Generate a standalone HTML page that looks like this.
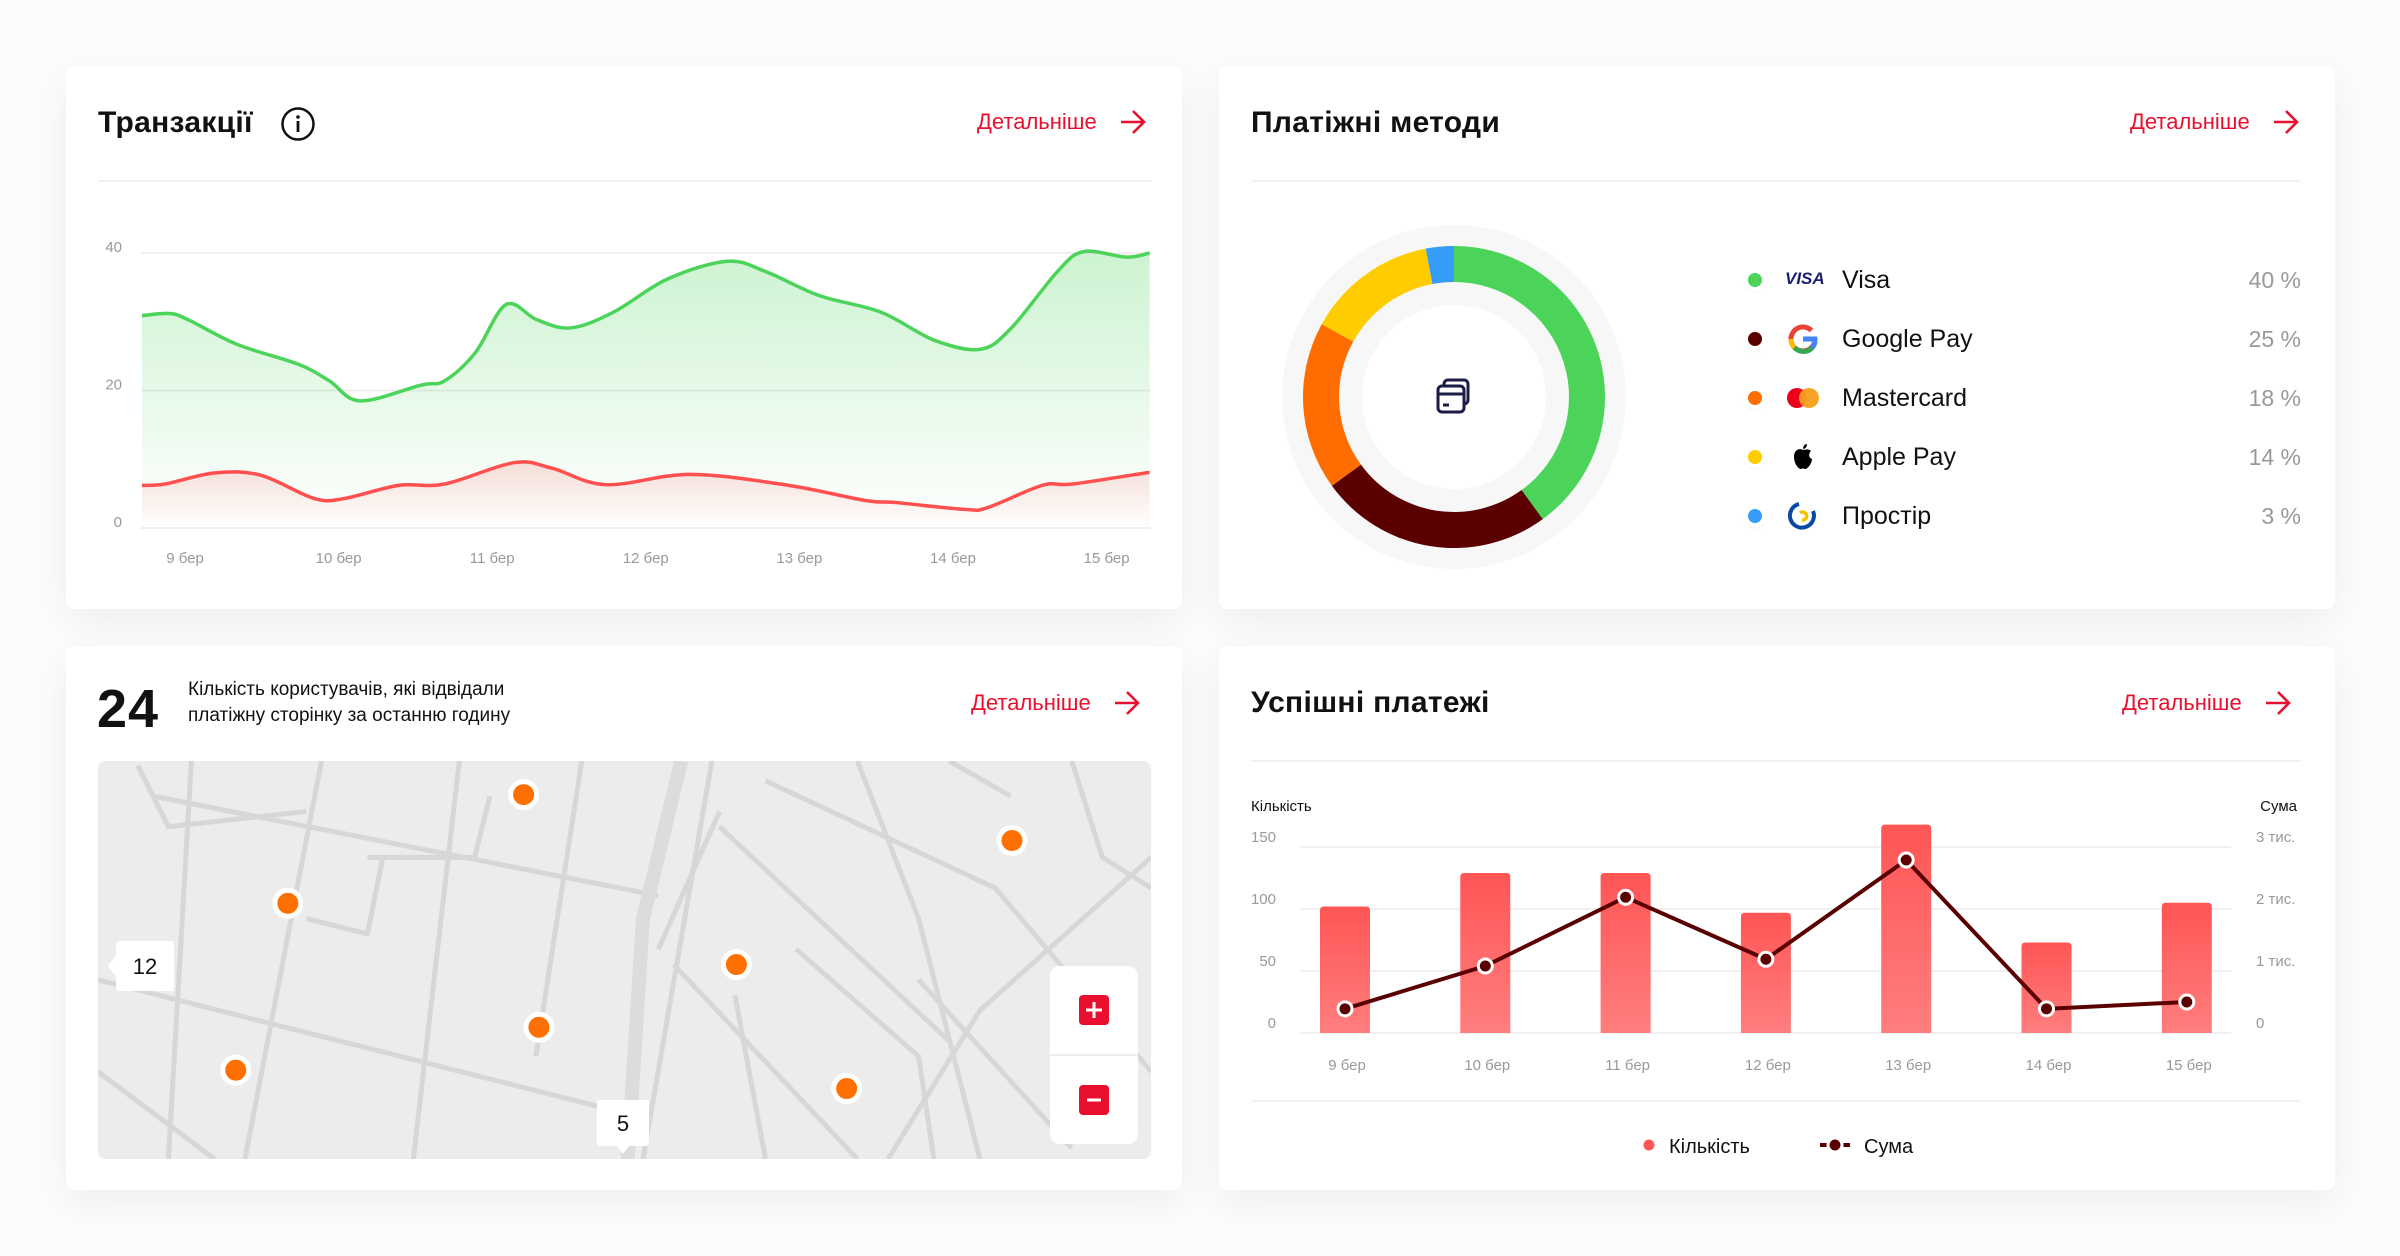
<!DOCTYPE html>
<html><head><meta charset="utf-8">
<style>
*{box-sizing:border-box;margin:0;padding:0}
body{width:2400px;height:1256px;background:#fcfcfc;position:relative;overflow:hidden;font-family:"Liberation Sans","Noto Sans CJK SC",sans-serif;color:#111}
.card{position:absolute;background:#fff;border-radius:8px;box-shadow:0 12px 40px rgba(0,0,0,0.06)}
.title{position:absolute;font-size:30px;font-weight:bold;letter-spacing:0.3px;color:#111}
.more{position:absolute;font-size:22px;color:#e8102e;display:flex;align-items:center;gap:22px}
.div{position:absolute;height:2px;background:#f2f2f2}
.abs{position:absolute}
.leg-row{position:absolute;left:1740px;width:561px;height:40px;display:flex;align-items:center}
.leg-dot{position:absolute;left:8px;width:14px;height:14px;border-radius:50%;box-shadow:0 0 0 4px #fff,0 3px 6px rgba(0,0,0,.12)}
.leg-name{position:absolute;left:102px;font-size:25px;color:#111}
.leg-pct{position:absolute;right:0;font-size:23px;color:#999}
.leg-icon{position:absolute;left:46px;width:34px;height:34px}
</style></head><body>

<div class="card" style="left:66px;top:66px;width:1116px;height:543px"></div>
<div class="card" style="left:1219px;top:66px;width:1116px;height:543px"></div>
<div class="card" style="left:66px;top:646px;width:1116px;height:544px"></div>
<div class="card" style="left:1219px;top:646px;width:1116px;height:544px"></div>

<div class="title" style="left:98px;top:106px">Транзакції</div>
<svg class="abs" style="left:280px;top:106px" width="36" height="36" viewBox="0 0 36 36"><circle cx="18" cy="18" r="15.5" fill="none" stroke="#111" stroke-width="2.5"/><circle cx="18" cy="11" r="1.8" fill="#111"/><rect x="16.6" y="15" width="2.8" height="11" fill="#111"/></svg>
<div class="more" style="left:977px;top:109px">Детальніше<svg width="28" height="26" viewBox="0 0 28 26"><path d="M2 13H25M14 2L25 13L14 24" fill="none" stroke="#e8102e" stroke-width="2.6"/></svg></div>
<div class="div" style="left:98px;top:180px;width:1053px"></div>

<div class="title" style="left:1251px;top:106px">Платіжні методи</div>
<div class="more" style="left:2130px;top:109px">Детальніше<svg width="28" height="26" viewBox="0 0 28 26"><path d="M2 13H25M14 2L25 13L14 24" fill="none" stroke="#e8102e" stroke-width="2.6"/></svg></div>
<div class="div" style="left:1251px;top:180px;width:1050px"></div>

<div class="leg-row" style="top:260px"><span class="leg-dot" style="background:#4cd45a"></span><span class="leg-icon" style="font:italic bold 17px 'Liberation Sans',sans-serif;color:#1a1f71;top:9px;left:45px">VISA</span><span class="leg-name">Visa</span><span class="leg-pct">40 %</span></div>
<div class="leg-row" style="top:319px"><span class="leg-dot" style="background:#5a0000"></span><svg class="leg-icon" viewBox="0 0 34 34"><path d="M29 17a12 12 0 1 1-3.5-8.5" fill="none" stroke="#ea4335" stroke-width="5"/><path d="M5 17a12 12 0 0 0 3.5 8.5" fill="none" stroke="#fbbc05" stroke-width="5"/><path d="M8.5 25.5A12 12 0 0 0 26 26" fill="none" stroke="#34a853" stroke-width="5"/><path d="M17 17H29a12 12 0 0 1-3 9" fill="none" stroke="#4285f4" stroke-width="5"/></svg><span class="leg-name">Google Pay</span><span class="leg-pct">25 %</span></div>
<div class="leg-row" style="top:378px"><span class="leg-dot" style="background:#ff6d00"></span><svg class="leg-icon" viewBox="0 0 34 34"><circle cx="11" cy="17" r="10" fill="#eb001b"/><circle cx="23" cy="17" r="10" fill="#f79e1b" opacity=".95"/></svg><span class="leg-name">Mastercard</span><span class="leg-pct">18 %</span></div>
<div class="leg-row" style="top:437px"><span class="leg-dot" style="background:#ffcc00"></span><svg class="leg-icon" viewBox="0 0 34 34"><path d="M17 10c-3-2-9-1-9 7 0 6 4 12 7 12 1.5 0 2-1 2-1s.5 1 2 1c3 0 7-6 7-10-3-1-4-5-1-8-3-3-6-1-8-1z" fill="#000"/><path d="M17 9c0-3 2-5 4-5 0 3-2 5-4 5z" fill="#000"/></svg><span class="leg-name">Apple Pay</span><span class="leg-pct">14 %</span></div>
<div class="leg-row" style="top:496px"><span class="leg-dot" style="background:#359df8"></span><svg class="leg-icon" viewBox="0 0 34 34"><path d="M13 5A12 12 0 1 0 27 12" fill="none" stroke="#0b4aa2" stroke-width="4"/><path d="M14 14a4 4 0 1 1 2 7" fill="none" stroke="#f5c400" stroke-width="3.5"/></svg><span class="leg-name">Простір</span><span class="leg-pct">3 %</span></div>

<div class="abs" style="left:97px;top:678px;font-size:54px;font-weight:bold;letter-spacing:1px">24</div>
<div class="abs" style="left:188px;top:677px;font-size:19px;line-height:26px;color:#111">Кількість користувачів, які відвідали<br>платіжну сторінку за останню годину</div>
<div class="more" style="left:971px;top:690px">Детальніше<svg width="28" height="26" viewBox="0 0 28 26"><path d="M2 13H25M14 2L25 13L14 24" fill="none" stroke="#e8102e" stroke-width="2.6"/></svg></div>

<div class="title" style="left:1251px;top:686px">Успішні платежі</div>
<div class="more" style="left:2122px;top:690px">Детальніше<svg width="28" height="26" viewBox="0 0 28 26"><path d="M2 13H25M14 2L25 13L14 24" fill="none" stroke="#e8102e" stroke-width="2.6"/></svg></div>
<div class="div" style="left:1251px;top:760px;width:1050px"></div>
<div class="div" style="left:1251px;top:1100px;width:1050px"></div>

<svg id="g" class="abs" style="left:0;top:0" width="2400" height="1256" viewBox="0 0 2400 1256">
<defs>
<linearGradient id="gf" x1="0" y1="0" x2="0" y2="1"><stop offset="0" stop-color="#4cd45a" stop-opacity=".28"/><stop offset="1" stop-color="#4cd45a" stop-opacity="0"/></linearGradient>
<linearGradient id="rf" x1="0" y1="0" x2="0" y2="1"><stop offset="0" stop-color="#ff4f4f" stop-opacity=".18"/><stop offset="1" stop-color="#ff4f4f" stop-opacity="0"/></linearGradient>
<linearGradient id="bf" x1="0" y1="0" x2="0" y2="1"><stop offset="0" stop-color="#ff5555"/><stop offset="1" stop-color="#ff7e7e"/></linearGradient>
<clipPath id="mapclip"><rect x="98" y="761" width="1053" height="398" rx="8"/></clipPath>
</defs>
<g id="lineChart"></g>
<g id="donut"></g>
<g id="map" clip-path="url(#mapclip)"></g>
<g id="combo"></g>
</svg>

<script>
const lcDays=["9 бер","10 бер","11 бер","12 бер","13 бер","14 бер","15 бер"];
const lcYTicks=[0,20,40];
const greenX=[-0.28,-0.10,0.02,0.34,0.74,0.94,1.14,1.54,1.69,1.89,2.09,2.29,2.51,2.79,3.14,3.53,3.78,4.13,4.53,4.88,5.18,5.38,5.68,5.85,6.13,6.28];
const greenY=[30.9,31.2,30.3,26.7,23.8,21.4,18.5,20.8,21.4,25.5,32.5,30.3,29.1,31.4,36.2,38.8,37.3,33.8,31.4,27.3,26.0,29.1,37.3,40.2,39.4,40.0];
const redX=[-0.28,-0.13,0.19,0.49,0.84,1.04,1.39,1.69,2.14,2.39,2.74,3.29,3.93,4.43,4.63,5.08,5.23,5.58,5.78,6.28];
const redY=[6.2,6.4,8.0,7.7,4.3,4.3,6.2,6.4,9.5,8.7,6.3,7.8,6.2,4.0,3.7,2.7,3.0,6.2,6.4,8.1];

const pmNames=["Visa","Google Pay","Mastercard","Apple Pay","Простір"];
const pmValues=[40,25,18,14,3];
const pmColors=["#4cd45a","#5a0000","#ff6d00","#ffcc00","#359df8"];

const markerLng=[342,661,188,481,352,154,553];
const markerLat=[519,549,590,630,671,699,711];

const ccDays=["9 бер","10 бер","11 бер","12 бер","13 бер","14 бер","15 бер"];
const ccCount=[102,129,129,97,168,73,105];
const ccSum=[390,1080,2190,1190,2790,390,500];
const ccLeftTicks=[0,50,100,150];
const ccRightTicks=["0","1 тис.","2 тис.","3 тис."];
const ccRightVals=[0,1000,2000,3000];

const NS="http://www.w3.org/2000/svg";
function mk(tag,attrs,parent){const e=document.createElementNS(NS,tag);for(const k in attrs)e.setAttribute(k,attrs[k]);parent.appendChild(e);return e;}
function smooth(pts){let d="M"+pts[0][0]+","+pts[0][1];for(let i=0;i<pts.length-1;i++){const p0=pts[Math.max(0,i-1)],p1=pts[i],p2=pts[i+1],p3=pts[Math.min(pts.length-1,i+2)];const t=6;d+=" C"+(p1[0]+(p2[0]-p0[0])/t)+","+(p1[1]+(p2[1]-p0[1])/t)+" "+(p2[0]-(p3[0]-p1[0])/t)+","+(p2[1]-(p3[1]-p1[1])/t)+" "+p2[0]+","+p2[1];}return d;}

(function(){
 const g=document.getElementById('lineChart');
 const x=d=>185+d*153.6, y=v=>528-v*6.875;
 lcYTicks.forEach(t=>{
  const l=mk('line',{x1:141,x2:1151,y1:y(t),y2:y(t),stroke:'#efefef','stroke-width':2},g);
  
  const tx=mk('text',{x:122,y:y(t)-1,'text-anchor':'end','font-size':15,fill:'#999','font-family':'Liberation Sans'},g);tx.textContent=t;
  
 });
 lcDays.forEach((d,i)=>{const tx=mk('text',{x:x(i),y:563,'text-anchor':'middle','font-size':15,fill:'#999','font-family':'Liberation Sans'},g);tx.textContent=d;
  });
 function series(X,Y,col,fill,name){
  const pts=X.map((d,i)=>[x(d),y(Y[i])]);const p=smooth(pts);
  const a=mk('path',{d:p+" L"+pts[pts.length-1][0]+","+y(0)+" L"+pts[0][0]+","+y(0)+"Z",fill:fill},g);
  
  const l=mk('path',{d:p,fill:'none',stroke:col,'stroke-width':3.5},g);
  
 }
 series(greenX,greenY,'#4cd45a','url(#gf)','successful-transactions');
 series(redX,redY,'#ff4f4f','url(#rf)','failed-transactions');
})();

(function(){
 const g=document.getElementById('donut');const cx=1454,cy=397;
 mk('circle',{cx,cy,r:172,fill:'#f7f7f7'},g);
 const tot=pmValues.reduce((a,b)=>a+b,0);let a0=0;
 const R=151,r=115;
 pmValues.forEach((v,i)=>{
  const a1=a0+v/tot*Math.PI*2;
  const p=(a,rr)=>[cx+rr*Math.sin(a),cy-rr*Math.cos(a)];
  const [x0,y0]=p(a0,R),[x1,y1]=p(a1,R),[x2,y2]=p(a1,r),[x3,y3]=p(a0,r);const lg=(a1-a0)>Math.PI?1:0;
  const s=mk('path',{d:`M${x0},${y0} A${R},${R} 0 ${lg} 1 ${x1},${y1} L${x2},${y2} A${r},${r} 0 ${lg} 0 ${x3},${y3}Z`,fill:pmColors[i]},g);
  
  
  a0=a1;
 });
 mk('circle',{cx,cy,r:92,fill:'#fff'},g);
 const ic=mk('g',{fill:'none',stroke:'#1b1b45','stroke-width':3},g);
 
 mk('rect',{x:cx-10,y:cy-17,width:24,height:24,rx:4},ic);
 mk('rect',{x:cx-16,y:cy-11,width:26,height:26,rx:4,fill:'#fff'},ic);
 mk('line',{x1:cx-16,x2:cx+10,y1:cy-3,y2:cy-3},ic);
 mk('line',{x1:cx-11,x2:cx-5,y1:cy+8,y2:cy+8},ic);
})();

(function(){
 const g=document.getElementById('map');
 const bg=mk('rect',{x:98,y:761,width:1053,height:398,fill:'#ececec'},g);
 
 const S=1.531;
 const roads=[[[125,497],[110,757]],[[210,497],[160,757]],[[100,520],[430,585]],[[64,640],[400,725]],[[465,497],[420,757]],[[430,620],[470,530]],[[300,497],[270,757]],[[380,497],[350,690]],[[470,540],[620,680]],[[440,630],[560,757]],[[560,497],[600,600],[640,757]],[[752,560],[640,660],[580,757]],[[600,640],[700,750]],[[500,510],[650,580],[752,700]],[[240,560],[310,560],[320,520]],[[90,500],[110,540],[200,530]],[[700,497],[720,560],[752,580]],[[620,497],[660,520]],[[520,620],[600,690],[610,757]],[[64,700],[140,757]],[[480,650],[500,757]],[[200,600],[240,610],[250,560]]];
 roads.forEach(rd=>{
  const l=mk('polyline',{points:rd.map(p=>(p[0]*S)+','+(p[1]*S)).join(' '),fill:'none',stroke:'#d7d7d7','stroke-width':5},g);
  
 });
 mk('polyline',{points:[[445,497],[420,600],[410,757]].map(p=>(p[0]*S)+','+(p[1]*S)).join(' '),fill:'none',stroke:'#dcdcdc','stroke-width':14},g);
 markerLng.forEach((mx,i)=>{
  const c=mk('circle',{cx:mx*S,cy:markerLat[i]*S,r:13,fill:'#ff7000',stroke:'#fff','stroke-width':5},g);
  
 });
 function lbl(x,y,w,h,t,name){const gg=mk('g',{},g);
  mk('rect',{x,y,width:w,height:h,rx:3,fill:'#fff'},gg);const tx=mk('text',{x:x+w/2,y:y+h/2+8,'text-anchor':'middle','font-size':22,fill:'#111','font-family':'Liberation Sans'},gg);tx.textContent=t;}
 lbl(116,941,58,50,'12','cluster-label-12');mk('path',{d:'M116,955 L108,966 L116,977Z',fill:'#fff'},g);
 lbl(597,1100,52,46,'5','cluster-label-5');mk('path',{d:'M617,1146 L623,1154 L629,1146Z',fill:'#fff'},g);
 const zc=mk('g',{},g);
 mk('rect',{x:1050,y:966,width:88,height:178,rx:10,fill:'#fff'},zc);
 mk('line',{x1:1050,x2:1138,y1:1055,y2:1055,stroke:'#eee','stroke-width':2},zc);
 const zp=mk('g',{},zc);
 mk('rect',{x:1079,y:995,width:30,height:30,rx:4,fill:'#e8102e'},zp);mk('path',{d:'M1094,1002V1018M1086,1010H1102',stroke:'#fff','stroke-width':3},zp);
 const zm=mk('g',{},zc);
 mk('rect',{x:1079,y:1085,width:30,height:30,rx:4,fill:'#e8102e'},zm);mk('path',{d:'M1087,1100H1101',stroke:'#fff','stroke-width':3},zm);
})();

(function(){
 const g=document.getElementById('combo');
 const x=i=>1345+i*140.3, yL=v=>1033-v*(186/150), yR=v=>1033-v*(186/3000);
 ccLeftTicks.forEach(t=>{
  const l=mk('line',{x1:1300,x2:2231,y1:yL(t),y2:yL(t),stroke:'#f0f0f0','stroke-width':2},g);
  
  const tx=mk('text',{x:1276,y:yL(t)-5,'text-anchor':'end','font-size':15,fill:'#999','font-family':'Liberation Sans'},g);tx.textContent=t;
  
 });
 ccRightTicks.forEach((t,i)=>{const tx=mk('text',{x:2256,y:yR(ccRightVals[i])-5,'font-size':15,fill:'#999','font-family':'Liberation Sans'},g);tx.textContent=t;
  });
 let t1=mk('text',{x:1251,y:811,'font-size':15,fill:'#111','font-family':'Liberation Sans'},g);t1.textContent='Кількість';
 
 let t2=mk('text',{x:2297,y:811,'text-anchor':'end','font-size':15,fill:'#111','font-family':'Liberation Sans'},g);t2.textContent='Сума';
 
 ccDays.forEach((d,i)=>{
  const b=mk('path',{d:`M${x(i)-25},${yL(0)} V${yL(ccCount[i])+4} Q${x(i)-25},${yL(ccCount[i])} ${x(i)-21},${yL(ccCount[i])} H${x(i)+21} Q${x(i)+25},${yL(ccCount[i])} ${x(i)+25},${yL(ccCount[i])+4} V${yL(0)}Z`,fill:'url(#bf)'},g);
  
  const tx=mk('text',{x:x(i)+2,y:1070,'text-anchor':'middle','font-size':15,fill:'#999','font-family':'Liberation Sans'},g);tx.textContent=d;
  
 });
 const ln=mk('polyline',{points:ccSum.map((v,i)=>x(i)+','+yR(v)).join(' '),fill:'none',stroke:'#5a0000','stroke-width':4},g);
 
 ccSum.forEach((v,i)=>{const c=mk('circle',{cx:x(i),cy:yR(v),r:7,fill:'#5a0000',stroke:'#fff','stroke-width':3},g);
  });
 const lg=mk('g',{},g);
 mk('circle',{cx:1649,cy:1145,r:7,fill:'#ff5555',stroke:'#fff','stroke-width':3},lg);
 let a=mk('text',{x:1669,y:1153,'font-size':20,fill:'#111','font-family':'Liberation Sans'},lg);a.textContent='Кількість';
 mk('line',{x1:1820,x2:1850,y1:1145,y2:1145,stroke:'#5a0000','stroke-width':4},lg);
 mk('circle',{cx:1835,cy:1145,r:7,fill:'#5a0000',stroke:'#fff','stroke-width':3},lg);
 let b=mk('text',{x:1864,y:1153,'font-size':20,fill:'#111','font-family':'Liberation Sans'},lg);b.textContent='Сума';
})();
</script>
</body></html>
